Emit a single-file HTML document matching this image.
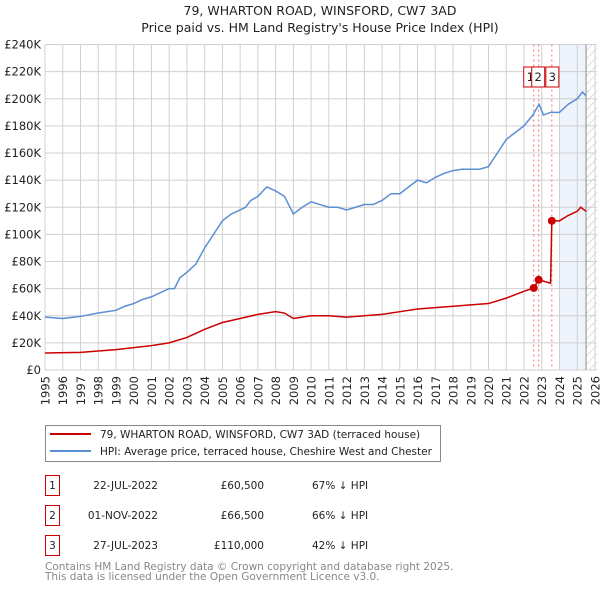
<!DOCTYPE html>
<html><head><meta charset="utf-8"><style>
body{margin:0;background:#fff;width:600px;height:590px;overflow:hidden}
svg{display:block;font-family:"DejaVu Sans","Liberation Sans",sans-serif}
</style></head><body>
<svg id="c" width="600" height="590">
<defs><pattern id="hatch" width="6" height="6" patternUnits="userSpaceOnUse" patternTransform="rotate(45)"><line x1="0" y1="0" x2="0" y2="6" stroke="#bbb" stroke-width="1"/></pattern></defs>
<text x="320" y="15" text-anchor="middle" font-size="12.5" fill="#222">79, WHARTON ROAD, WINSFORD, CW7 3AD</text>
<text x="320" y="32" text-anchor="middle" font-size="12.5" fill="#222">Price paid vs. HM Land Registry's House Price Index (HPI)</text>
<g id="plot"></g>
<g>
<rect x="45.5" y="425.5" width="395" height="36" fill="#fff" stroke="#888"/>
<line x1="50" y1="434" x2="91" y2="434" stroke="#cc0000" stroke-width="2"/>
<text x="100" y="438" font-size="10.5" fill="#222">79, WHARTON ROAD, WINSFORD, CW7 3AD (terraced house)</text>
<line x1="50" y1="451" x2="91" y2="451" stroke="#5b8fd4" stroke-width="2"/>
<text x="100" y="455" font-size="10.5" fill="#222">HPI: Average price, terraced house, Cheshire West and Chester</text>
</g>
<g id="table" font-size="10.5" fill="#222"></g>
<text x="45" y="570" font-size="10.5" fill="#888">Contains HM Land Registry data © Crown copyright and database right 2025.</text>
<text x="45" y="580" font-size="10.5" fill="#888">This data is licensed under the Open Government Licence v3.0.</text>
</svg>
<script>
const yTicks=[0,20000,40000,60000,80000,100000,120000,140000,160000,180000,200000,220000,240000];
const yLabels=["£0","£20K","£40K","£60K","£80K","£100K","£120K","£140K","£160K","£180K","£200K","£220K","£240K"];
const years=[1995,1996,1997,1998,1999,2000,2001,2002,2003,2004,2005,2006,2007,2008,2009,2010,2011,2012,2013,2014,2015,2016,2017,2018,2019,2020,2021,2022,2023,2024,2025,2026];
const hpiT=[1995,1996,1997,1998,1999,1999.5,2000,2000.5,2001,2001.5,2002,2002.3,2002.6,2003,2003.5,2004,2004.5,2005,2005.5,2006,2006.3,2006.6,2007,2007.5,2008,2008.5,2009,2009.5,2010,2010.5,2011,2011.5,2012,2012.5,2013,2013.5,2014,2014.5,2015,2015.5,2016,2016.5,2017,2017.5,2018,2018.5,2019,2019.5,2020,2020.5,2021,2021.5,2022,2022.5,2022.85,2023.1,2023.5,2024,2024.5,2025,2025.3,2025.5];
const hpiV=[39000,38000,39500,42000,44000,47000,49000,52000,54000,57000,60000,60000,68000,72000,78000,90000,100000,110000,115000,118000,120000,125000,128000,135000,132000,128000,115000,120000,124000,122000,120000,120000,118000,120000,122000,122000,125000,130000,130000,135000,140000,138000,142000,145000,147000,148000,148000,148000,150000,160000,170000,175000,180000,188000,196000,188000,190000,190000,196000,200000,205000,202000];
const ppT=[1995,1997,1998,1999,2000,2001,2002,2003,2004,2005,2006,2007,2008,2008.5,2009,2010,2011,2012,2013,2014,2015,2016,2017,2018,2019,2020,2021,2022,2022.55,2022.83,2023.5,2023.57,2024,2024.5,2025,2025.2,2025.5];
const ppV=[12500,13000,14000,15000,16500,18000,20000,24000,30000,35000,38000,41000,43000,42000,38000,40000,40000,39000,40000,41000,43000,45000,46000,47000,48000,49000,53000,58000,60500,66500,64000,110000,110000,114000,117000,120000,117000];
const saleT=[2022.55,2022.83,2023.57];
const saleV=[60500,66500,110000];
const saleDates=["22-JUL-2022","01-NOV-2022","27-JUL-2023"];
const salePrices=["£60,500","£66,500","£110,000"];
const salePct=["67% ↓ HPI","66% ↓ HPI","42% ↓ HPI"];

const L=45,R=597,T=44.5,B=370;
const xs=t=>L+(t-1995)*17.74;
const ys=v=>B-v/240000*(B-T);
const NS="http://www.w3.org/2000/svg";
const g=document.getElementById('plot');
function mk(tag,at,parent){const e=document.createElementNS(NS,tag);for(const k in at)e.setAttribute(k,at[k]);(parent||g).appendChild(e);return e;}
mk('rect',{x:xs(2024),y:T,width:xs(2025.5)-xs(2024),height:B-T,fill:'#eef3fc'});
mk('rect',{x:xs(2025.5),y:T,width:R-xs(2025.5),height:B-T,fill:'url(#hatch)'});
years.forEach((y,i)=>{
  const x=xs(y);
  const l=mk('line',{x1:x,y1:T,x2:x,y2:B,stroke:'#d0d0d0'});
  
  
  const t=mk('text',{x:x+4.5,y:B+6,'font-size':11.5,fill:'#222','text-anchor':'end',transform:`rotate(-90 ${x+4.5} ${B+6})`});
  t.textContent=y;
  
  
});
yTicks.forEach((v,i)=>{
  const y=ys(v);
  const l=mk('line',{x1:L,y1:y,x2:R,y2:y,stroke:'#d0d0d0'});
  
  
  const t=mk('text',{x:L-4,y:y+4,'font-size':11.5,fill:'#222','text-anchor':'end'});
  t.textContent=yLabels[i];
  
  
});
mk('line',{x1:xs(2025.5),y1:T,x2:xs(2025.5),y2:B,stroke:'#888'});
saleT.forEach(t=>{
  const l=mk('line',{x1:xs(t),y1:T,x2:xs(t),y2:B,stroke:'#f07070','stroke-dasharray':'2,3'});
  
  
});
const hp=mk('polyline',{points:hpiT.map((t,i)=>xs(t)+','+ys(hpiV[i])).join(' '),fill:'none',stroke:'#5b8fd4','stroke-width':1.5});


const pp=mk('polyline',{points:ppT.map((t,i)=>xs(t)+','+ys(ppV[i])).join(' '),fill:'none',stroke:'#cc0000','stroke-width':1.5});


saleT.forEach((t,i)=>{
  const c=mk('circle',{cx:xs(t),cy:ys(saleV[i]),r:4,fill:'#cc0000'});
  
  
});
const bx=[xs(saleT[0])-10,xs(saleT[1])-7,xs(saleT[2])-6];
saleT.forEach((t,i)=>{
  const r=mk('rect',{x:bx[i],y:67,width:13,height:20,fill:'#fff',stroke:'#cc0000'});
  
  
  const tx=mk('text',{x:bx[i]+6.5,y:81,'font-size':11.5,'text-anchor':'middle',fill:'#222'});
  tx.textContent=i+1;
  
  
});
const tb=document.getElementById('table');
saleDates.forEach((d,i)=>{
  const y=475+i*30;
  const r=mk('rect',{x:45.5,y:y+0.5,width:14,height:20,fill:'none',stroke:'#cc0000'},tb);
  
  
  const a=mk('text',{x:52.5,y:y+14,'text-anchor':'middle'},tb);a.textContent=i+1;
  
  
  const b=mk('text',{x:158,y:y+14,'text-anchor':'end'},tb);b.textContent=d;
  
  
  const c=mk('text',{x:264,y:y+14,'text-anchor':'end'},tb);c.textContent=salePrices[i];
  
  
  const e=mk('text',{x:312,y:y+14},tb);e.textContent=salePct[i];
  
  
});
</script>
</body></html>
